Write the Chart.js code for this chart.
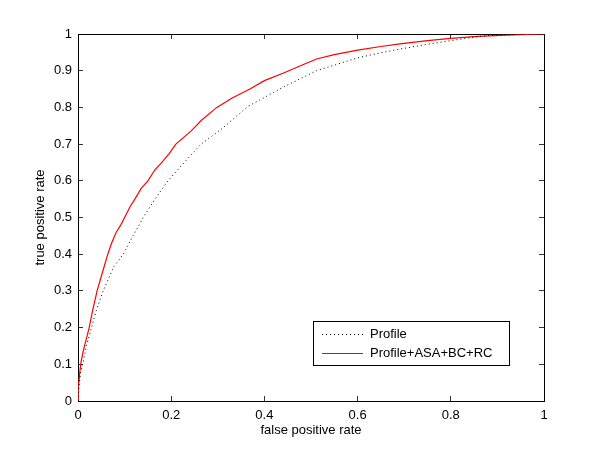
<!DOCTYPE html>
<html>
<head>
<meta charset="utf-8">
<script src="https://cdn.jsdelivr.net/npm/chart.js@4"></script>
<style>
  body { margin: 0; background: #fff; }
  canvas { display: block; }
</style>
</head>
<body>
<canvas id="myChart" width="600" height="451"></canvas>
<script>
// ROC curves
const fprProfile = [0, 0.002, 0.006, 0.010, 0.018, 0.029, 0.040, 0.054, 0.066, 0.077, 0.097, 0.118, 0.140, 0.165, 0.193, 0.228, 0.264, 0.307, 0.365, 0.40, 0.44, 0.48, 0.512, 0.55, 0.6, 0.65, 0.691, 0.75, 0.8, 0.87, 0.94, 1];
const tprProfile = [0, 0.04, 0.08, 0.10, 0.15, 0.20, 0.25, 0.30, 0.335, 0.366, 0.40, 0.45, 0.50, 0.55, 0.60, 0.65, 0.70, 0.74, 0.803, 0.827, 0.855, 0.88, 0.90, 0.915, 0.935, 0.949, 0.959, 0.972, 0.982, 0.995, 1.0, 1];

const fprFull = [0, 0.001, 0.004, 0.007, 0.012, 0.018, 0.024, 0.032, 0.041, 0.050, 0.057, 0.064, 0.072, 0.082, 0.092, 0.100, 0.112, 0.122, 0.136, 0.150, 0.165, 0.180, 0.196, 0.210, 0.243, 0.265, 0.298, 0.33, 0.369, 0.40, 0.44, 0.48, 0.512, 0.55, 0.6, 0.65, 0.691, 0.75, 0.8, 0.85, 0.906, 0.95, 1];
const tprFull = [0, 0.04, 0.08, 0.11, 0.14, 0.17, 0.20, 0.25, 0.30, 0.34, 0.37, 0.40, 0.43, 0.46, 0.48, 0.50, 0.53, 0.55, 0.58, 0.60, 0.63, 0.65, 0.675, 0.70, 0.736, 0.765, 0.80, 0.825, 0.85, 0.873, 0.893, 0.915, 0.932, 0.944, 0.956, 0.966, 0.973, 0.982, 0.988, 0.993, 0.996, 0.998, 1];

const seriesNames = ['Profile', 'Profile+ASA+BC+RC'];
const seriesColors = ['rgb(0,0,0)', 'rgb(255,0,0)'];
const xTicks = [0, 0.2, 0.4, 0.6, 0.8, 1];
const yTicks = [0, 0.1, 0.2, 0.3, 0.4, 0.5, 0.6, 0.7, 0.8, 0.9, 1];

function toPoints(xs, ys) {
    return xs.map(function (x, i) { return { x: x, y: ys[i] }; });
}

const font = { family: 'Liberation Sans, Arial, sans-serif', size: 13 };

// legend box drawn inside the axes, like matlab
const boxLegend = {
    id: 'boxLegend',
    afterDraw: function (chart) {
        const ctx = chart.ctx;
        const x0 = 313.5, y0 = 321.5, w = 196, h = 44;
        ctx.save();
        ctx.fillStyle = '#fff';
        ctx.fillRect(x0, y0, w, h);
        ctx.strokeStyle = '#000';
        ctx.lineWidth = 1;
        ctx.strokeRect(x0, y0, w, h);
        ctx.font = '13px ' + font.family;
        ctx.textBaseline = 'middle';
        // dotted sample
        ctx.fillStyle = seriesColors[0];
        for (let x = 322; x < 363; x += 4) {
            ctx.fillRect(x, 334, 1, 1);
        }
        // solid red sample
        ctx.fillStyle = seriesColors[1];
        ctx.fillRect(322, 353, 41, 1);
        ctx.fillStyle = '#000';
        for (let i = 0; i < seriesNames.length; i++) {
            ctx.fillText(seriesNames[i], 370, 334.5 + i * 19);
        }
        ctx.restore();
    }
};

function tickOpts(show, pad) {
    return {
        display: show,
        autoSkip: false,
        maxRotation: 0,
        color: '#000',
        font: font,
        padding: pad,
        callback: function (v) { return String(v); }
    };
}

function fixedTicks(vals) {
    return function (scale) {
        scale.ticks = vals.map(function (v) { return { value: v }; });
    };
}

// ticks point inwards
const gridOpts = {
    drawOnChartArea: false,
    drawTicks: true,
    tickLength: -5,
    color: '#333'
};

var ctx = document.getElementById('myChart').getContext('2d');
var chart = new Chart(ctx, {
    type: 'scatter',
    data: {
        datasets: [{
            label: seriesNames[0],
            data: toPoints(fprProfile, tprProfile),
            showLine: true,
            borderColor: seriesColors[0],
            borderWidth: 1,
            borderDash: [1, 3],
            pointRadius: 0,
            tension: 0
        },
        {
            label: seriesNames[1],
            data: toPoints(fprFull, tprFull),
            showLine: true,
            borderColor: seriesColors[1],
            borderWidth: 1.2,
            pointRadius: 0,
            tension: 0
        }]
    },
    options: {
        responsive: false,
        animation: false,
        layout: { padding: { left: 0, top: 34, right: 56, bottom: 0 } },
        plugins: {
            legend: { display: false },
            tooltip: { enabled: false }
        },
        scales: {
            x: {
                type: 'linear', position: 'bottom', min: 0, max: 1,
                afterBuildTicks: fixedTicks(xTicks),
                afterFit: function (s) { s.height = 50; },
                ticks: tickOpts(true, 12),
                grid: gridOpts,
                border: { display: true, color: '#000', width: 1 },
                title: { display: true, text: 'false positive rate', color: '#000', font: font, padding: 13 }
            },
            y: {
                type: 'linear', position: 'left', min: 0, max: 1,
                afterBuildTicks: fixedTicks(yTicks),
                afterFit: function (s) { s.width = 78; },
                ticks: tickOpts(true, 11),
                grid: gridOpts,
                border: { display: true, color: '#000', width: 1 },
                title: { display: true, text: 'true positive rate', color: '#000', font: font, padding: 33 }
            },
            x2: {
                type: 'linear', position: 'top', min: 0, max: 1,
                afterBuildTicks: fixedTicks(xTicks),
                afterFit: function (s) { s.height = 0; },
                ticks: tickOpts(false, 0),
                grid: gridOpts,
                border: { display: true, color: '#000', width: 1 }
            },
            y2: {
                type: 'linear', position: 'right', min: 0, max: 1,
                afterBuildTicks: fixedTicks(yTicks),
                afterFit: function (s) { s.width = 0; },
                ticks: tickOpts(false, 0),
                grid: gridOpts,
                border: { display: true, color: '#000', width: 1 }
            }
        }
    },
    plugins: [boxLegend]
});
</script>
</body>
</html>
